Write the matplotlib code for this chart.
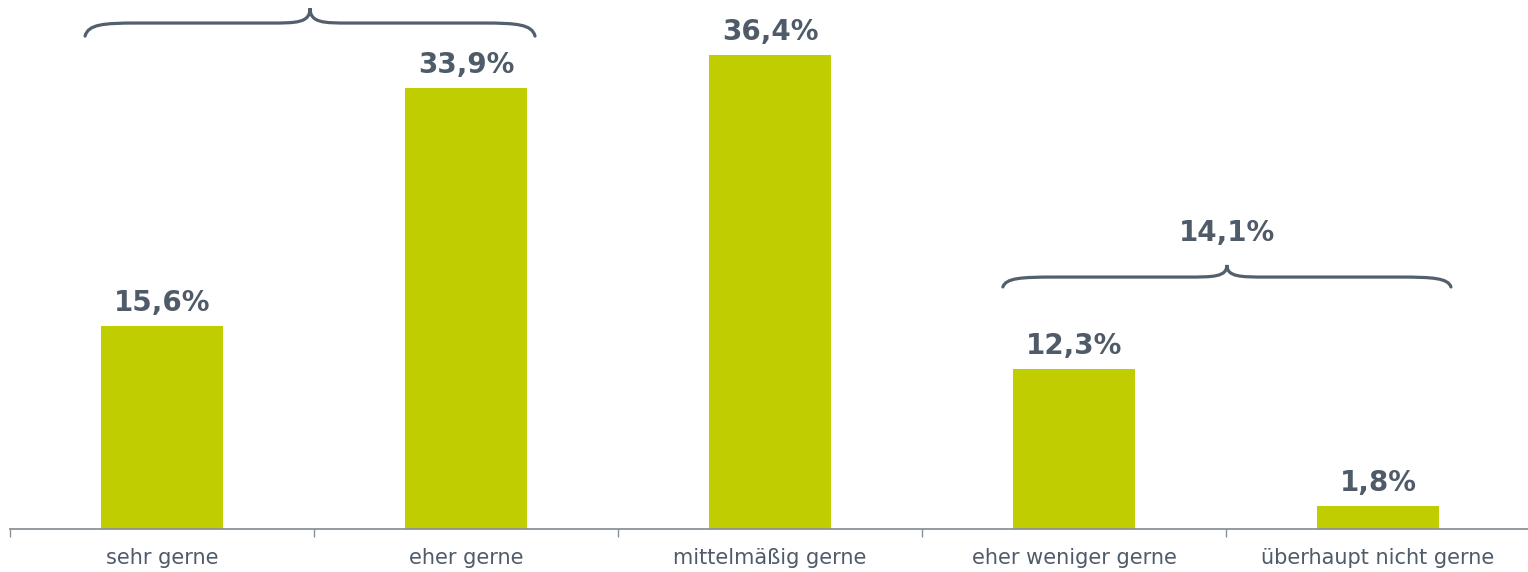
import matplotlib
matplotlib.use('Agg')
import matplotlib.pyplot as plt
from matplotlib.path import Path
from matplotlib.patches import PathPatch

# Data
categories = ['sehr gerne', 'eher gerne', 'mittelmäßig gerne',
              'eher weniger gerne', 'überhaupt nicht gerne']
values = [15.6, 33.9, 36.4, 12.3, 1.8]
value_labels = ['15,6%', '33,9%', '36,4%', '12,3%', '1,8%']

# Grouped braces: (first idx, last idx, label)
groups = [(0, 1, None), (3, 4, '14,1%')]

bar_color = '#c0cd00'
text_color = '#4f5b69'
brace_color = '#525f6d'
axis_color = '#8a9299'

plt.rcParams['font.family'] = ['DejaVu Sans']

fig = plt.figure(figsize=(15.28, 5.72), dpi=100)
ax = fig.add_axes([10 / 1528, 43 / 572, 1520 / 1528, 529 / 572])

x = list(range(len(categories)))
ax.bar(x, values, width=0.4, color=bar_color, zorder=2)

for xi, v, lab in zip(x, values, value_labels):
    ax.annotate(lab, (xi, v), xytext=(0, 10.8), textcoords='offset points',
                ha='center', va='baseline', fontsize=20, fontweight='bold',
                color=text_color)


def brace(ax, x0, x1, y_end, y_flat, y_tip, c_end=0.17, c_tip=0.13):
    xm = (x0 + x1) / 2
    verts = [
        (x0, y_end),
        (x0 + 0.01, y_flat - (y_flat - y_end) * 0.1),
        (x0 + c_end * 0.35, y_flat), (x0 + c_end, y_flat),
        (xm - c_tip, y_flat),
        (xm - c_tip * 0.35, y_flat), (xm, y_flat), (xm, y_tip),
        (xm, y_flat), (xm + c_tip * 0.35, y_flat), (xm + c_tip, y_flat),
        (x1 - c_end, y_flat),
        (x1 - c_end * 0.35, y_flat),
        (x1 - 0.01, y_flat - (y_flat - y_end) * 0.1), (x1, y_end),
    ]
    codes = [Path.MOVETO,
             Path.CURVE4, Path.CURVE4, Path.CURVE4,
             Path.LINETO,
             Path.CURVE4, Path.CURVE4, Path.CURVE4,
             Path.CURVE4, Path.CURVE4, Path.CURVE4,
             Path.LINETO,
             Path.CURVE4, Path.CURVE4, Path.CURVE4]
    ax.add_patch(PathPatch(Path(verts, codes), fill=False, lw=2.3,
                           edgecolor=brace_color, capstyle='round',
                           clip_on=False, zorder=3))
    return xm


# brace geometry (data coords)
brace_geo = [(-0.253, 1.227, 37.86, 38.86, 40.0),
             (2.766, 4.240, 18.59, 19.35, 20.28)]
for (i0, i1, lab), (bx0, bx1, ye, yf, yt) in zip(groups, brace_geo):
    xm = brace(ax, bx0, bx1, ye, yf, yt)
    if lab:
        ax.text(xm, yt + 2.45, lab, ha='center', va='center', fontsize=20,
                fontweight='bold', color=text_color)

ax.set_xlim(-0.5, 4.5)
ax.set_ylim(0, 40.63)
ax.set_yticks([])
for s in ['top', 'right', 'left']:
    ax.spines[s].set_visible(False)
ax.spines['bottom'].set_color(axis_color)
ax.spines['bottom'].set_linewidth(1.3)

ax.set_xticks(x)
ax.set_xticklabels(categories, fontsize=15, color=text_color)
ax.set_xticks([i - 0.5 for i in range(len(categories) + 1)], minor=True)
ax.tick_params(axis='x', which='major', length=0, pad=14)
ax.tick_params(axis='x', which='minor', length=6, width=1, color=axis_color)

fig.savefig('out.png', dpi=100)
